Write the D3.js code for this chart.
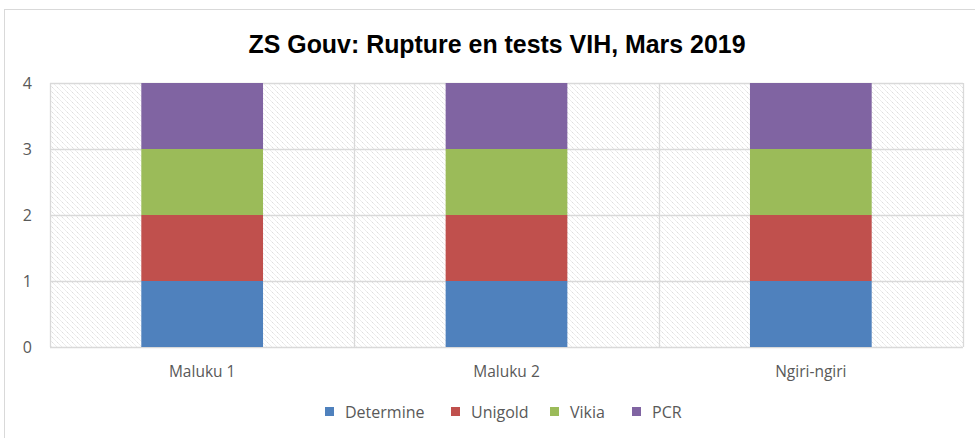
<!DOCTYPE html>
<html><head><meta charset="utf-8">
<script src="https://cdn.jsdelivr.net/npm/d3@7"></script>
<style>body{margin:0;background:#fff}svg{display:block}</style>
</head><body>
<svg id="c" width="975" height="438"></svg>
<script>
const categories = ["Maluku 1", "Maluku 2", "Ngiri-ngiri"];
const seriesNames = ["Determine", "Unigold", "Vikia", "PCR"];
const determine = [1, 1, 1];
const unigold = [1, 1, 1];
const vikia = [1, 1, 1];
const pcr = [1, 1, 1];
const yTicks = [0, 1, 2, 3, 4];
const colors = ["#4f81bd", "#c0504d", "#9bbb59", "#8064a2"];
const title = "ZS Gouv: Rupture en tests VIH, Mars 2019";

const svg = d3.select("#c");
const W = 975, H = 438;
const m = {l: 50, r: 12, t: 83, b: 91};
const pw = W - m.l - m.r, ph = H - m.t - m.b;
const font = "'Open Sans', 'Liberation Sans', sans-serif";

// outer chart border
svg.append("rect").attr("x", 4.5).attr("y", 9.5).attr("width", 980).attr("height", 440)
  .attr("fill", "#fff").attr("stroke", "#d9d9d9").attr("stroke-width", 1);

const defs = svg.append("defs");
const pat = defs.append("pattern").attr("id", "hatch").attr("patternUnits", "userSpaceOnUse")
  .attr("width", 5).attr("height", 5);
pat.append("rect").attr("width", 5).attr("height", 5).attr("fill", "#fff");
pat.append("path").attr("d", "M-1,-1 L6,6 M-1,4 L1,6 M4,-1 L6,1")
  .attr("stroke", "#dcdcdc").attr("stroke-width", 1).attr("stroke-dasharray", "1.4,0.7");

const table = categories.map((c, i) => ({cat: c, Determine: determine[i], Unigold: unigold[i], Vikia: vikia[i], PCR: pcr[i]}));
const stack = d3.stack().keys(seriesNames)(table);

const x = d3.scaleBand().domain(categories).range([m.l, m.l + pw]).paddingInner(0).paddingOuter(0);
const y = d3.scaleLinear().domain([0, 4]).range([m.t + ph, m.t]);

const g = svg.append("g");
g.append("rect").attr("x", m.l).attr("y", m.t).attr("width", pw).attr("height", ph).attr("fill", "url(#hatch)");

// horizontal gridlines
g.selectAll("line.h").data(yTicks).join("line")
  .attr("x1", m.l).attr("x2", m.l + pw)
  .attr("y1", d => Math.round(y(d)) + 0.5).attr("y2", d => Math.round(y(d)) + 0.5)
  .attr("stroke", "#d9d9d9").attr("stroke-width", 1.3);
// vertical gridlines at category boundaries
const bounds = categories.map(c => x(c)).concat([x(categories[categories.length - 1]) + x.bandwidth()]);
g.selectAll("line.v").data(bounds).join("line")
  .attr("x1", d => Math.round(d) + 0.5).attr("x2", d => Math.round(d) + 0.5)
  .attr("y1", m.t).attr("y2", m.t + ph)
  .attr("stroke", "#d9d9d9").attr("stroke-width", 1.3);

const bw = x.bandwidth() * 0.40;
g.selectAll("g.s").data(stack).join("g").attr("fill", (d, i) => colors[i])
  .selectAll("rect").data(d => d).join("rect")
  .attr("x", d => x(d.data.cat) + (x.bandwidth() - bw) / 2)
  .attr("width", bw)
  .attr("y", d => y(d[1]))
  .attr("height", d => y(d[0]) - y(d[1]));

// y axis labels
const yAxis = d3.axisLeft(y).tickValues(yTicks).tickSize(0).tickPadding(18).tickFormat(d3.format("d"));
const ya = svg.append("g").attr("transform", `translate(${m.l},0)`).call(yAxis);
ya.select(".domain").remove();
ya.selectAll("text").attr("fill", "#595959").attr("font-family", font).attr("font-size", 16);

// x axis labels
const xAxis = d3.axisBottom(x).tickSize(0).tickPadding(14);
const xa = svg.append("g").attr("transform", `translate(0,${m.t + ph})`).call(xAxis);
xa.select(".domain").remove();
xa.selectAll("text").attr("fill", "#595959").attr("font-family", font).attr("font-size", 15.5)
  .attr("y", 30).attr("dy", 0);

// title
svg.append("text").attr("x", 497).attr("y", 53).attr("text-anchor", "middle")
  .attr("font-family", "'Liberation Sans Narrow', 'Liberation Sans', sans-serif").attr("font-weight", "bold")
  .attr("font-size", 26).attr("fill", "#000")
  .attr("textLength", 497).attr("lengthAdjust", "spacingAndGlyphs").text(title);

// legend
const legX = [325, 451, 550, 632];
const leg = svg.append("g").selectAll("g").data(seriesNames).join("g")
  .attr("transform", (d, i) => `translate(${legX[i]},413)`);
leg.append("rect").attr("x", 0).attr("y", -6).attr("width", 9).attr("height", 9).attr("fill", (d, i) => colors[i]);
leg.append("text").attr("x", 20).attr("y", 5).attr("fill", "#595959")
  .attr("font-family", font).attr("font-size", 16).text(d => d);
</script>
</body></html>
